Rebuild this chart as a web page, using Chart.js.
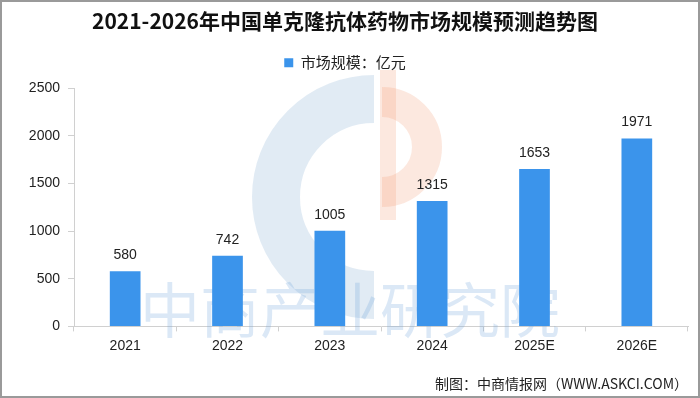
<!DOCTYPE html>
<html>
<head>
<meta charset="utf-8">
<script src="https://cdn.jsdelivr.net/npm/chart.js@4"></script>
<style>
    html, body { margin: 0; padding: 0; background: #fff; }
    #wrap {
        width: 700px; height: 398px; box-sizing: border-box;
        border: 2px solid #9a9a9a; background: #fff;
    }
    #wrap canvas { display: block; }
</style>
</head>
<body>
<div id="wrap"><canvas id="marketChart" width="696" height="394"></canvas></div>
<script>
const years = ['2021', '2022', '2023', '2024', '2025E', '2026E'];
const marketSize = [580, 742, 1005, 1315, 1653, 1971];
const yTicks = [0, 500, 1000, 1500, 2000, 2500];

const titleText = '2021-2026年中国单克隆抗体药物市场规模预测趋势图';
const seriesLabel = '市场规模：亿元';
const sourceText = '制图：中商情报网（WWW.ASKCI.COM）';
const watermarkText = '中商产业研究院';

const cjk = '"Noto Sans CJK SC", "DejaVu Sans", sans-serif';

// faint logo + watermark behind the bars
const watermark = {
    id: 'watermark',
    beforeDatasetsDraw(chart) {
        const ctx = chart.ctx;
        ctx.save();
        // left blue "C"
        ctx.strokeStyle = 'rgba(120, 165, 205, 0.22)';
        ctx.lineWidth = 48;
        ctx.beginPath();
        ctx.arc(372, 195, 98, Math.PI * 0.5, Math.PI * 1.5);
        ctx.stroke();
        // right orange part
        ctx.strokeStyle = 'rgba(240, 150, 110, 0.22)';
        ctx.lineWidth = 30;
        ctx.beginPath();
        ctx.arc(380, 145, 45, -Math.PI * 0.5, Math.PI * 0.5);
        ctx.stroke();
        ctx.fillStyle = 'rgba(240, 150, 110, 0.22)';
        ctx.fillRect(378, 68, 16, 150);
        // text
        ctx.fillStyle = 'rgba(110, 165, 220, 0.25)';
        ctx.font = '60px ' + cjk;
        ctx.textAlign = 'center';
        ctx.textBaseline = 'middle';
        ctx.fillText(watermarkText, 348, 308);
        ctx.restore();
    }
};

const valueLabels = {
    id: 'valueLabels',
    afterDatasetsDraw(chart) {
        const ctx = chart.ctx;
        const meta = chart.getDatasetMeta(0);
        ctx.save();
        ctx.fillStyle = '#222';
        ctx.font = '14px "Liberation Sans", sans-serif';
        ctx.textAlign = 'center';
        ctx.textBaseline = 'bottom';
        meta.data.forEach((bar, i) => {
            ctx.fillText(String(marketSize[i]), bar.x, bar.y - 9);
        });
        ctx.restore();
    }
};

// extra gap between the legend and the plot
const legendGap = {
    id: 'legendGap',
    beforeLayout(chart) {
        const lg = chart.legend;
        if (lg && !lg._gapPatched) {
            const fit = lg.fit.bind(lg);
            lg.fit = function () { fit(); this.height += 8; };
            lg._gapPatched = true;
        }
    }
};

new Chart(document.getElementById('marketChart'), {
    type: 'bar',
    data: {
        labels: years,
        datasets: [{
            label: seriesLabel,
            data: marketSize,
            backgroundColor: '#3b94eb',
            categoryPercentage: 1,
            barPercentage: 0.3
        }]
    },
    options: {
        responsive: false,
        animation: false,
        layout: { padding: { left: 0, right: 10, top: 6, bottom: 4 } },
        plugins: {
            title: {
                display: true,
                text: titleText,
                color: '#111',
                font: { family: cjk, size: 21, weight: 'bold' },
                padding: { top: 0, bottom: 10 }
            },
            legend: {
                labels: {
                    color: '#222',
                    font: { family: cjk, size: 15 },
                    boxWidth: 9,
                    boxHeight: 9,
                    padding: 12
                }
            },
            subtitle: {
                display: true,
                position: 'bottom',
                align: 'end',
                text: sourceText,
                color: '#222',
                font: { family: cjk, size: 14 },
                padding: { top: 15, bottom: 0 }
            },
            tooltip: { enabled: false }
        },
        scales: {
            x: {
                grid: {
                    display: true,
                    drawOnChartArea: false,
                    offset: true,
                    color: '#d0d0d0',
                    tickLength: 5
                },
                border: { color: '#d0d0d0' },
                ticks: {
                    color: '#222',
                    font: { family: '"Liberation Sans", sans-serif', size: 14 },
                    padding: 6
                }
            },
            y: {
                min: 0,
                max: 2500,
                afterBuildTicks: scale => {
                    scale.ticks = yTicks.map(v => ({ value: v }));
                },
                afterFit: scale => { scale.width = 72; },
                grid: {
                    display: true,
                    drawOnChartArea: false,
                    color: '#d0d0d0',
                    tickLength: 6
                },
                border: { color: '#d0d0d0' },
                ticks: {
                    color: '#222',
                    font: { family: '"Liberation Sans", sans-serif', size: 14 },
                    padding: 8,
                    callback: v => String(v)
                }
            }
        }
    },
    plugins: [watermark, valueLabels, legendGap]
});
</script>
</body>
</html>
